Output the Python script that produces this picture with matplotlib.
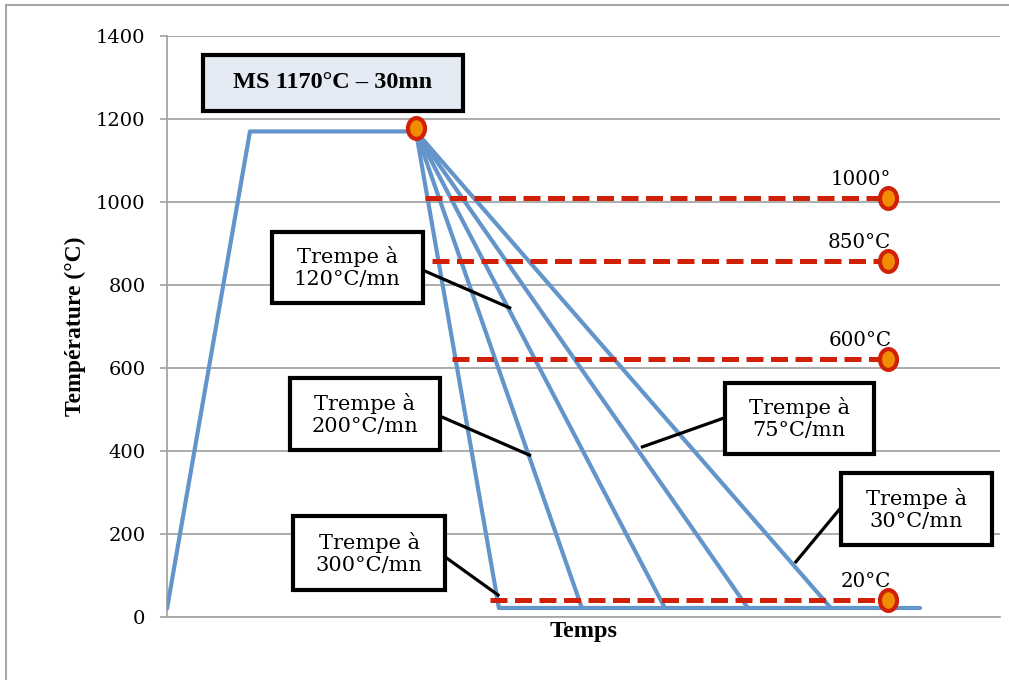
import matplotlib
matplotlib.use("Agg")
import matplotlib.pyplot as plt
from matplotlib.patches import Rectangle
from matplotlib.lines import Line2D
from matplotlib.markers import MarkerStyle
from matplotlib.transforms import Affine2D

# heating + hold (time units, temperature in °C)
heat_t = [0, 10, 30]
heat_T = [20, 1170, 1170]

# quench lines: all start at end of hold, end at room temperature
quench_end_t = [40, 50, 60, 70, 80]
room_T = 22
hold_end_t = 90.7

# dashed red levels
level_T = [1010, 858, 622, 41]
level_start_t = [31.1, 32.0, 34.3, 38.9]
level_end_t = 86.9
level_labels = ["1000°", "850°C", "600°C", "20°C"]

box_labels = ["Trempe à\n120°C/mn", "Trempe à\n200°C/mn", "Trempe à\n300°C/mn",
              "Trempe à\n75°C/mn", "Trempe à\n30°C/mn"]
title_label = "MS 1170°C – 30mn"

blue = "#6395CA"
red = "#D02008"
orange = "#F28C00"
grid = "#A6A6A6"
serif = ["Liberation Serif", "DejaVu Serif"]
wide_serif = ["DejaVu Serif"]

fig = plt.figure(figsize=(10.09, 6.8), dpi=100)
ax = fig.add_axes([167/1009, 63/680, (1000-167)/1009, (617-36)/680])

# outer frame (left + top visible)
fig.add_artist(Line2D([6/1009, 6/1009], [0, 1-5/680], transform=fig.transFigure, color=grid, lw=1.5))
fig.add_artist(Line2D([6/1009, 1], [1-5/680, 1-5/680], transform=fig.transFigure, color=grid, lw=1.5))

ax.set_xlim(0, 100.4)
ax.set_ylim(0, 1400)
ax.set_yticks(range(0, 1401, 200))
ax.set_xticks([])
ax.yaxis.grid(True, color=grid, lw=1.3)
ax.set_axisbelow(True)
for s in ["top", "right"]:
    ax.spines[s].set_visible(False)
ax.spines["left"].set_color(grid)
ax.spines["bottom"].set_color(grid)
ax.spines["left"].set_linewidth(1.3)
ax.spines["bottom"].set_linewidth(1.3)
ax.tick_params(axis="y", direction="out", length=5, color=grid, width=1.3, labelsize=14, pad=10.5)
for lab in ax.get_yticklabels():
    lab.set_fontfamily(wide_serif)
ax.set_ylabel("Température (°C)", fontfamily=serif, fontweight="bold", fontsize=17, labelpad=7)
ax.set_xlabel("Temps", fontfamily=serif, fontweight="bold", fontsize=17.5, labelpad=3)

# heating and hold
ax.plot(heat_t, heat_T, color=blue, lw=3, solid_capstyle="round", zorder=3)
for te in quench_end_t:
    ax.plot([heat_t[-1], te], [heat_T[-1], room_T], color=blue, lw=3, solid_capstyle="round", zorder=3)
ax.plot([quench_end_t[0], hold_end_t], [room_T, room_T], color=blue, lw=3, solid_capstyle="round", zorder=3)

# dashed levels
for t0, T in zip(level_start_t, level_T):
    ax.plot([t0, level_end_t], [T, T], color=red, lw=3.6, dashes=(3.4, 1.5), zorder=4)

oval = MarkerStyle("o", transform=Affine2D().scale(0.82, 1.0))
ax.plot([level_end_t]*len(level_T), level_T, ls="none", marker=oval, ms=15,
        mfc=orange, mec=red, mew=3, zorder=6)
ax.plot([heat_t[-1]], [1178], ls="none", marker=oval, ms=15,
        mfc=orange, mec=red, mew=3, zorder=6)

for T, lab in zip(level_T, level_labels):
    ax.text(87.3, T + 32, lab, ha="right", va="baseline", fontsize=14.3, fontfamily=wide_serif, zorder=7)

# callout boxes: (x0, x1, y0, y1), leader start, leader end
boxes = [
    ((12.6, 30.8, 757, 928), (30.8, 836), (41.3, 745)),
    ((14.8, 32.9, 402, 576), (32.9, 484), (43.7, 390)),
    ((15.2, 33.5, 65, 243), (33.5, 145), (39.9, 53)),
    ((67.2, 85.2, 393, 564), (67.2, 480), (57.3, 410)),
    ((81.2, 99.4, 173, 347), (81.2, 263), (75.8, 133)),
]
for (x0, x1, y0, y1), p0, p1 in boxes:
    ax.plot([p0[0], p1[0]], [p0[1], p1[1]], color="black", lw=2.3, zorder=8)
for lab, ((x0, x1, y0, y1), p0, p1) in zip(box_labels, boxes):
    ax.add_patch(Rectangle((x0, y0), x1 - x0, y1 - y0, facecolor="white",
                           edgecolor="black", lw=3, zorder=9, clip_on=False))
    ax.text((x0 + x1) / 2, (y0 + y1) / 2, lab, ha="center", va="center",
            fontsize=15, fontfamily=wide_serif, linespacing=1.2, zorder=10)

ax.add_patch(Rectangle((4.34, 1219), 35.66 - 4.34, 1354 - 1219, facecolor="#E3EAF4",
                       edgecolor="black", lw=3, zorder=9, clip_on=False))
ax.text(20.0, 1287, title_label, ha="center", va="center", fontsize=17.5,
        fontweight="bold", fontfamily=serif, zorder=10)

fig.savefig("out.png", dpi=100)
